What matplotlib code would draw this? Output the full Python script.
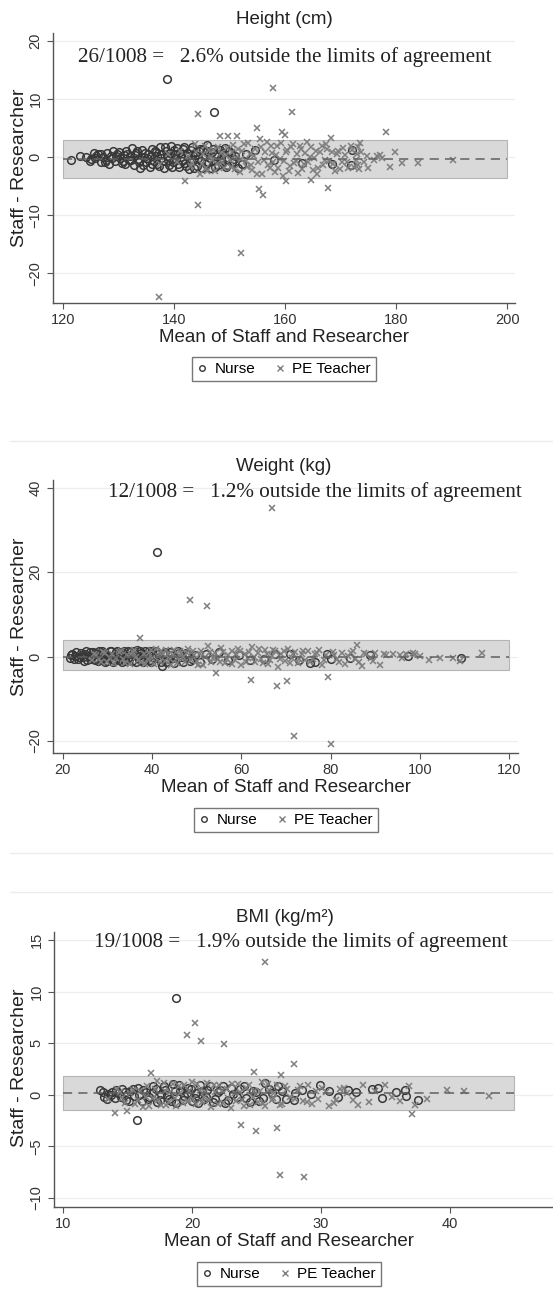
import numpy as np
import matplotlib.pyplot as plt
from matplotlib.lines import Line2D

# Height (cm) : moyenne vs difference
nurse_h_x = [121.5, 123.0, 124.8, 125.5, 125.8, 126.3, 126.8, 127.2, 127.8, 128.2, 128.6, 129.0, 129.3, 129.8,
             130.2, 130.6, 131.0, 131.4, 131.8, 132.1, 132.5, 132.8, 133.2, 133.5, 133.9, 134.2, 134.6, 134.9,
             135.3, 135.6, 136.0, 136.3, 136.7, 137.0, 137.4, 137.7, 138.1, 138.4, 138.7, 138.8, 139.1, 139.5,
             139.8, 140.2, 140.5, 140.9, 141.2, 141.6, 141.9, 142.3, 142.7, 143.0, 143.4, 143.8, 144.1, 144.5,
             144.9, 145.3, 145.7, 146.0, 146.4, 146.8, 147.2, 147.3, 147.7, 148.2, 148.6, 149.1, 149.6, 150.2,
             150.8, 151.5, 154.5, 158.0, 163.0, 168.5, 172.0, 171.8,
             124.2, 125.1, 126.0, 126.9, 127.5, 128.0, 128.9, 129.5, 130.0, 130.8, 131.2, 131.6, 132.3, 132.9,
             133.4, 133.7, 134.4, 134.8, 135.1, 135.8, 136.1, 136.5, 136.9, 137.2, 137.6, 138.0, 138.6, 139.0,
             139.3, 139.7, 140.0, 140.4, 140.7, 141.1, 141.5, 141.8, 142.1, 142.5, 142.9, 143.2, 143.6, 144.0,
             144.3, 144.7, 145.1, 145.5, 145.9, 146.2, 146.6, 147.0, 147.5, 147.9, 148.4, 148.9, 149.3, 149.9,
             150.5, 151.0, 152.2, 153.0]
nurse_h_y = [-0.5, 0.2, -0.6, 0.8, -0.2, 0.5, -0.9, 0.1, -0.4, -1.2, 0.3, 1.1, -0.7, 0.6,
             -0.2, -1.0, 0.4, 1.0, -0.5, 0.2, 1.6, -1.3, 0.7, -0.3, -1.8, 1.2, 0.0, -0.9,
             0.5, -1.6, 1.4, -0.6, 0.9, -1.1, 1.8, -0.2, -1.9, 1.7, 13.5, 0.3, -1.4, 1.9,
             -0.8, 0.6, 1.6, -1.7, 0.1, 1.5, -1.0, 0.8, -2.0, 1.3, -0.4, 0.4, -1.5, 1.0,
             -0.7, 1.4, -1.2, 2.1, -0.1, 0.9, 7.8, -1.6, 0.5, 1.2, -0.9, 1.6, -1.3, 0.7,
             -0.3, -1.8, 1.2, -0.5, -1.0, -1.2, 1.2, -1.3,
             0.1, -0.3, 0.2, 0.6, -0.8, 0.7, -0.1, 0.2, 0.9, -0.6, -1.2, 0.6, -0.4, 0.4,
             1.1, -0.8, -1.3, 0.8, -0.2, 0.2, -1.2, 1.1, 0.3, -1.5, 0.6, -0.7, 1.0, -0.4,
             0.8, -1.7, 1.2, -0.3, -1.2, 0.9, -0.6, 1.8, -1.5, 0.3, -0.9, 1.7, -1.9, 0.9,
             -0.2, 1.5, -1.8, 0.2, 1.1, -0.8, -1.9, 1.4, 0.3, -1.4, -0.2, 0.8, -1.7, 1.0,
             -0.8, 0.3, -1.2, 0.5]
pe_h_x = [137.3, 137.5, 139.0, 140.5, 141.0, 142.0, 142.5, 143.0, 143.8, 144.3, 144.3, 144.6, 145.2, 145.8,
          146.3, 146.9, 147.4, 148.0, 148.3, 148.7, 149.3, 149.8, 150.2, 150.7, 151.2, 151.3, 151.8, 152.0,
          152.3, 152.9, 153.4, 153.9, 154.4, 154.9, 155.0, 155.3, 155.5, 155.6, 156.0, 156.2, 156.7, 157.2,
          157.6, 157.8, 158.1, 158.6, 159.1, 159.5, 159.6, 160.0, 160.1, 160.4, 160.9, 161.2, 161.4, 161.9,
          162.4, 162.9, 163.4, 163.9, 164.4, 164.7, 165.0, 165.5, 166.0, 166.6, 167.1, 167.6, 167.8, 168.3,
          168.7, 169.3, 169.9, 170.5, 171.1, 171.8, 172.4, 173.0, 173.4, 173.3, 173.2, 175.0, 176.5, 177.5,
          178.2, 178.8, 179.8, 181.0, 184.0, 190.3,
          143.3, 144.0, 145.0, 145.5, 146.0, 146.6, 147.1, 147.7, 148.4, 149.0, 149.6, 150.0, 150.5, 151.0,
          151.5, 152.1, 152.6, 153.1, 153.6, 154.1, 154.6, 155.1, 155.8, 156.4, 156.9, 157.4, 157.9, 158.3,
          158.8, 159.3, 159.8, 160.2, 160.7, 161.1, 161.6, 162.1, 162.6, 163.1, 163.6, 164.1, 164.6, 165.2,
          165.7, 166.3, 166.8, 167.3, 167.9, 168.5, 169.0, 169.6, 170.2, 170.8, 171.4, 172.0, 172.7, 173.1,
          173.6, 174.2, 174.8, 176.0, 177.0]
pe_h_y = [-24.0, -1.2, 0.5, -0.8, 1.0, -4.1, 0.2, -1.5, 2.2, 7.4, -8.2, -2.8, 0.6, -1.9,
          1.3, -0.4, -2.3, 1.8, 3.6, -0.9, 0.4, 3.6, -1.6, 2.1, -0.2, 3.6, -2.5, -16.5,
          1.1, -0.7, 2.4, -1.3, 0.3, -2.9, 5.0, -5.5, 3.2, 1.7, -6.5, -0.5, 2.6, -1.9,
          0.8, 11.9, -2.6, 1.9, -0.3, 4.3, -3.3, 3.9, -4.1, 1.2, -1.5, 7.8, 2.3, -0.6,
          -2.7, 1.5, -1.1, 2.7, 0.1, -4.0, -2.2, 1.0, -1.8, 2.0, -0.4, 1.4, -5.3, 3.4,
          -1.2, 0.6, -2.0, 1.6, -0.8, 2.0, -1.6, 0.5, 2.5, -2.0, 1.8, -1.8, 0.2, -0.1,
          4.3, -1.6, 0.9, -1.0, -1.0, -0.5,
          -1.0, 0.9, -1.1, 1.9, -2.4, 0.1, 1.2, -1.2, 0.7, -1.8, 1.6, -0.5, 0.9, -2.1,
          1.5, -0.3, 2.2, -1.6, 0.6, -2.2, 1.4, -0.9, -2.8, 0.9, -1.4, 2.0, -0.9, 0.4,
          -1.8, 2.4, -0.6, 0.9, -2.3, 1.7, -1.0, 0.5, 2.0, -2.0, 0.7, -0.9, 1.8, -0.2,
          -2.8, 0.9, -1.3, 2.3, -0.6, 0.9, -2.3, 1.1, -0.9, 0.4, -1.9, 1.2, -0.5, -1.4,
          0.9, -0.8, 0.3, -0.5, 0.4]

# Weight (kg)
nurse_w_x = [21.5, 22.0, 22.8, 23.4, 24.0, 24.5, 25.0, 25.5, 26.0, 26.4, 26.9, 27.3, 27.8, 28.2,
             28.7, 29.1, 29.6, 30.0, 30.5, 31.0, 31.4, 31.9, 32.3, 32.8, 33.3, 33.7, 34.2, 34.7,
             35.1, 35.6, 36.1, 36.6, 37.0, 37.5, 38.0, 38.5, 39.0, 39.5, 40.0, 40.5, 41.1, 41.3,
             41.9, 42.3, 42.8, 43.5, 44.2, 45.0, 45.8, 46.6, 47.5, 48.5, 49.6, 50.8, 52.0, 53.5,
             55.0, 57.0, 59.5, 62.0, 65.0, 67.5, 70.9, 73.0, 75.4, 76.5, 79.1, 80.0, 84.4, 88.8,
             97.4, 109.2,
             21.8, 22.4, 23.0, 23.7, 24.3, 24.8, 25.3, 25.8, 26.2, 26.7, 27.1, 27.6, 28.0, 28.5,
             28.9, 29.4, 29.8, 30.3, 30.8, 31.2, 31.7, 32.1, 32.6, 33.0, 33.5, 34.0, 34.5, 34.9,
             35.4, 35.9, 36.3, 36.8, 37.3, 37.8, 38.3, 38.8, 39.3, 39.8, 40.3, 40.8, 41.6, 42.5,
             43.2, 44.0, 44.8, 46.0, 47.0, 48.0, 49.0]
nurse_w_y = [-0.4, 0.6, 0.2, -0.7, 0.9, -0.2, 0.5, -0.9, 1.1, 0.0, -0.6, 0.8, -1.1, 0.3,
             1.2, -0.4, 0.7, -1.0, 1.3, 0.1, -0.8, 1.0, -0.3, 0.6, -1.3, 1.4, 0.2, -0.6,
             1.1, -1.0, 0.4, 1.5, -0.5, 0.9, -1.4, 1.2, 0.0, -0.9, 1.4, -0.3, 24.7, 0.7,
             -1.2, -2.3, 1.0, -0.6, 0.4, -1.5, 1.2, -0.2, 0.8, -1.0, 0.3, -1.4, 0.6, -0.5,
             1.0, -0.8, 0.4, -0.9, -0.5, 0.6, 0.5, -0.8, -1.5, -1.3, 0.6, -0.5, -0.3, 0.3,
             0.2, -0.4,
             0.3, -0.6, 1.0, -0.1, 0.4, -1.0, 1.2, 0.2, -0.6, 1.0, -0.9, 0.5, 1.3, -0.5,
             0.9, -1.2, 0.2, -0.3, 1.4, -1.2, 0.5, 1.3, -0.9, 0.2, 0.9, -1.0, 1.2, -0.2,
             0.6, 1.3, -1.3, 0.2, 1.4, -0.8, 0.5, -0.3, 1.3, -1.2, 0.4, 1.2, -0.7, 0.5,
             -1.3, 1.1, -0.4, 0.9, -1.2, 0.5, -0.5]
pe_w_x = [26.5, 27.5, 28.5, 29.5, 30.5, 31.5, 32.5, 33.5, 34.3, 35.0, 35.8, 36.5, 37.3, 37.5,
          38.2, 39.0, 39.8, 40.5, 41.3, 42.0, 42.8, 43.5, 44.3, 45.0, 45.8, 46.5, 47.3, 48.0,
          48.6, 48.8, 49.5, 50.3, 51.0, 51.8, 52.2, 52.5, 53.3, 54.0, 54.3, 54.8, 55.5, 56.3,
          57.0, 57.8, 58.5, 59.3, 60.0, 60.8, 61.5, 62.1, 62.3, 63.0, 63.8, 64.5, 65.3, 66.0,
          66.9, 66.8, 67.5, 68.0, 68.3, 69.0, 69.8, 70.2, 70.5, 71.3, 71.8, 72.0, 72.8, 73.5,
          74.3, 75.0, 76.0, 77.0, 78.0, 79.0, 79.4, 80.1, 80.5, 81.5, 82.5, 83.2, 84.0, 85.0,
          86.0, 86.3, 87.0, 88.0, 89.0, 90.0, 91.0, 92.5, 94.0, 95.5, 97.0, 98.5, 100.0, 102.0,
          104.5, 107.5, 109.0, 114.0,
          27.0, 28.0, 29.0, 30.0, 31.0, 32.0, 33.0, 34.0, 35.3, 36.0, 36.8, 38.5, 39.3, 40.0,
          40.8, 41.8, 42.5, 43.2, 44.0, 44.8, 45.5, 46.2, 47.0, 47.8, 49.2, 50.0, 50.8, 51.5,
          53.0, 53.7, 55.2, 56.0, 56.7, 58.0, 58.8, 59.8, 61.0, 61.8, 62.8, 64.0, 64.8, 65.8,
          66.5, 67.2, 68.6, 69.5, 70.8, 71.6, 73.0, 73.8, 75.5, 76.5, 77.5, 78.5, 80.8, 82.0,
          84.5, 85.5, 87.5, 89.5, 92.0, 96.0, 99.0]
pe_w_y = [-0.9, 0.4, -1.3, 0.8, -0.4, -1.6, 1.0, -0.7, 0.3, -1.8, 1.1, -0.2, 4.5, -1.2,
          0.7, -0.6, 1.5, -1.7, 0.2, 1.2, -1.0, 0.5, -2.0, 1.6, -0.3, 0.9, -1.4, 1.9,
          13.5, -0.8, 0.4, -1.9, 1.3, -0.1, 12.1, 2.5, -1.2, 0.8, -3.8, -0.5, 2.0, -1.6,
          0.3, 1.4, -0.9, 1.8, -2.1, 0.6, -0.4, -5.5, 2.3, -1.3, 0.9, -0.7, 1.6, -1.8,
          35.2, 0.2, 1.2, -7.1, -2.6, 0.7, -1.1, -5.7, 1.7, -0.3, -18.8, 1.0, -1.5, 0.5,
          -0.8, 1.3, -0.6, 0.9, -1.9, 0.4, -4.8, -20.7, 1.1, -0.7, 0.8, -1.8, 0.2, 1.3,
          2.8, -1.2, -2.2, 0.5, -0.4, 0.9, -1.9, 0.3, 0.7, 0.4, 0.6, 0.9, 0.1, -0.8,
          -0.4, -0.3, -1.0, 0.8,
          0.6, -0.5, 1.1, -1.2, 0.5, -0.3, 1.3, -1.5, 0.7, 1.6, -0.9, -1.8, 0.9, -0.4,
          1.8, -1.3, 0.6, 1.5, -0.6, 0.3, -1.5, 1.2, -0.2, 0.8, 1.4, -1.0, 0.5, -2.0,
          1.1, -0.4, -1.3, 1.0, -0.7, -1.8, 0.6, 1.2, -1.2, 1.0, -0.2, 1.9, -1.6, 0.5,
          -0.9, 1.6, -0.5, 1.4, -1.6, 0.7, -0.6, 1.2, -1.2, 0.5, 1.6, -0.9, 0.3, -1.2,
          0.9, -0.6, 0.8, -1.0, 0.6, -0.3, 0.7]

# BMI (kg/m²)
nurse_b_x = [12.9, 13.2, 13.5, 13.8, 14.0, 14.3, 14.6, 14.9, 15.2, 15.5, 15.7, 15.8, 16.1, 16.4,
             16.7, 17.0, 17.3, 17.6, 17.9, 18.2, 18.5, 18.8, 18.8, 19.1, 19.4, 19.7, 20.0, 20.3,
             20.6, 20.9, 21.2, 21.6, 22.0, 22.4, 22.8, 23.2, 23.7, 24.2, 24.7, 25.2, 25.7, 26.2,
             26.7, 27.3, 27.9, 28.5, 29.2, 29.9, 30.6, 31.3, 32.1, 32.7, 34.0, 34.4, 34.7, 35.8,
             36.5, 36.6, 37.5,
             13.1, 13.4, 13.7, 14.1, 14.5, 14.8, 15.1, 15.4, 15.9, 16.2, 16.6, 16.9, 17.2, 17.5,
             17.8, 18.1, 18.4, 18.7, 19.0, 19.3, 19.6, 19.9, 20.2, 20.5, 20.8, 21.1, 21.4, 21.8,
             22.2, 22.6, 23.0, 23.5, 24.0, 24.5, 25.0, 25.5, 26.0, 26.5, 27.0, 28.0]
nurse_b_y = [0.5, -0.2, 0.1, 0.3, -0.3, 0.2, 0.6, -0.5, 0.4, -0.1, -2.5, 0.7, -0.6, 0.3,
             -0.2, 0.8, -0.7, 0.1, 0.5, -0.4, 1.0, 9.4, -0.8, 0.4, -0.1, 0.7, -0.6, 0.2,
             0.9, -0.4, 0.5, -0.7, 0.3, 0.8, -0.5, 0.1, 0.6, -0.3, 0.4, -0.6, 1.1, 0.2,
             0.8, -0.4, -0.5, 0.5, 0.1, 0.9, 0.4, -0.2, 0.5, 0.3, 0.6, 0.7, -0.3, 0.3,
             0.5, -0.1, -0.5,
             0.3, -0.4, 0.0, 0.5, -0.2, 0.3, -0.6, 0.6, 0.0, 0.5, -0.4, 0.2, 0.6, -0.5,
             0.8, 0.0, -0.6, 0.4, 0.9, -0.5, 0.2, 0.6, -0.3, -0.8, 0.4, -0.2, 0.8, -0.4,
             0.5, -0.8, 0.7, -0.2, 0.8, -0.7, 0.3, -0.3, 0.6, -0.4, 0.4, 0.2]
pe_b_x = [13.5, 14.0, 14.4, 14.8, 15.0, 15.4, 15.8, 16.2, 16.5, 16.8, 17.0, 17.3, 17.6, 17.9,
          18.2, 18.5, 18.8, 19.1, 19.4, 19.6, 19.7, 20.0, 20.2, 20.3, 20.6, 20.7, 20.9, 21.2,
          21.5, 21.8, 22.1, 22.4, 22.5, 22.7, 23.0, 23.3, 23.6, 23.8, 23.9, 24.2, 24.5, 24.8,
          24.8, 25.0, 25.1, 25.4, 25.7, 25.7, 26.0, 26.3, 26.6, 26.6, 26.8, 26.9, 27.0, 27.4,
          27.9, 28.0, 28.4, 28.7, 28.9, 29.3, 29.6, 30.1, 30.6, 31.0, 31.5, 32.0, 32.5, 32.9,
          33.3, 33.7, 34.2, 35.0, 35.5, 36.1, 36.8, 37.1, 37.3, 38.2, 39.8, 41.1, 43.0,
          14.2, 14.6, 15.2, 15.6, 16.0, 16.4, 16.7, 17.1, 17.4, 17.8, 18.0, 18.3, 18.7, 19.0,
          19.3, 19.8, 20.1, 20.4, 20.8, 21.0, 21.3, 21.7, 22.0, 22.3, 22.8, 23.1, 23.4, 23.7,
          24.0, 24.4, 24.7, 25.3, 25.5, 25.9, 26.2, 26.4, 26.8, 27.2, 27.6, 28.2, 28.6, 29.0,
          29.8, 30.4, 31.2, 31.8]
pe_b_y = [-0.4, -1.8, 0.3, -0.8, -1.6, 0.5, -0.5, -1.2, 0.8, 2.1, -0.3, 1.3, -1.0, 0.4,
          -0.7, 1.0, -1.1, 0.2, 0.9, 5.8, -0.6, 1.2, 7.0, -0.9, 0.5, 5.2, -0.2, 1.1,
          -1.2, 0.3, 0.9, -0.8, 4.9, 0.6, -1.3, 0.2, 1.0, -2.9, -0.5, 0.7, -1.0, 2.2,
          0.4, -3.5, -0.7, 1.2, 12.9, -1.1, 0.5, -0.3, -3.2, 0.9, -7.8, 1.9, -0.9, 0.6,
          3.0, -0.4, 0.8, -8.0, -0.7, -0.9, 0.4, 0.7, -1.1, -0.8, 0.6, 0.2, -0.5, -1.0,
          0.9, -0.7, 0.4, 0.9, -0.2, -0.6, 0.8, -1.9, -1.0, -0.4, 0.5, 0.4, -0.1,
          0.6, -0.3, 0.2, -0.9, 0.4, -0.2, -1.1, 0.6, -0.5, 1.1, -1.0, 0.3, -0.3, 0.8,
          -0.8, 0.4, -0.4, 1.0, -0.7, 0.3, -0.5, 0.9, -0.9, 0.4, -0.3, 1.0, -0.6, 0.3,
          -1.1, 0.9, -0.2, 0.4, -0.8, 1.0, -0.5, 0.2, -1.0, 0.8, -0.2, 0.5, -0.6, 0.9,
          -0.4, 0.3, -0.5, 0.7]

titles = ["Height (cm)", "Weight (kg)", "BMI (kg/m²)"]
notes = ["26/1008 =   2.6% outside the limits of agreement",
         "12/1008 =   1.2% outside the limits of agreement",
         "19/1008 =   1.9% outside the limits of agreement"]
loa_low = [-3.5, -3.3, -1.45]
loa_high = [2.9, 4.0, 1.8]
mean_diff = [-0.3, 0.0, 0.15]
x_ticks = [[120, 140, 160, 180, 200], [20, 40, 60, 80, 100, 120], [10, 20, 30, 40]]
y_ticks = [[-20, -10, 0, 10, 20], [-20, 0, 20, 40], [-10, -5, 0, 5, 10, 15]]

nurses = [(nurse_h_x, nurse_h_y), (nurse_w_x, nurse_w_y), (nurse_b_x, nurse_b_y)]
teachers = [(pe_h_x, pe_h_y), (pe_w_x, pe_w_y), (pe_b_x, pe_b_y)]

W, H = 553, 1290  # taille en pixels


def fx(px):
    return px / W


def fy(py):
    return 1 - py / H


# Mise en page de chaque panneau (pixels)
panels = [
    dict(l=53, r=515, t=33, b=303, xlim=(118.2, 201.4), ylim=(-25.1, 21.4), band_end=200,
         title_y=20, note_x=285, note_y=57, xlab_y=337, leg_x=284, leg_y=369, ylab_y=168),
    dict(l=53, r=518, t=480, b=753, xlim=(17.8, 122.0), ylim=(-22.9, 41.9), band_end=120,
         title_y=467, note_x=315, note_y=492, xlab_y=788, leg_x=286, leg_y=820, ylab_y=617),
    dict(l=54, r=553, t=932, b=1207, xlim=(9.3, 48.0), ylim=(-10.9, 15.8), band_end=45,
         title_y=918, note_x=301, note_y=942, xlab_y=1242, leg_x=289, leg_y=1274, ylab_y=1068),
]

sans = "Liberation Sans"
serif = "Liberation Serif"
nurse_col = "#383838"
pe_col = "#7e7e7e"

fig = plt.figure(figsize=(W / 100, H / 100), dpi=100)

# Lignes de séparation grises entre les panneaux
for yline in [441, 853, 892]:
    fig.add_artist(Line2D([fx(10), 1], [fy(yline), fy(yline)], color="#ececec", lw=1))

for i, p in enumerate(panels):
    ax = fig.add_axes([fx(p["l"]), fy(p["b"]), fx(p["r"] - p["l"]), (p["b"] - p["t"]) / H])
    ax.set_xlim(p["xlim"])
    ax.set_ylim(p["ylim"])
    ax.set_xticks(x_ticks[i])
    ax.set_yticks(y_ticks[i])
    for yt in y_ticks[i]:
        ax.axhline(yt, color="#eeeeee", lw=0.9, zorder=0)

    x0, x1 = x_ticks[i][0], p["band_end"]
    ax.fill_between([x0, x1], loa_low[i], loa_high[i], facecolor="#d9d9d9", edgecolor="#b5b5b5",
                    lw=0.8, zorder=1)
    ax.plot([x0, x1], [mean_diff[i], mean_diff[i]], color="#606060", lw=1.1, ls=(0, (6, 4)), zorder=4)

    nx, ny = nurses[i]
    tx, ty = teachers[i]
    ax.plot(nx, ny, "o", mfc="none", mec=nurse_col, ms=5.5, mew=1.1, zorder=2)
    ax.plot(tx, ty, "x", color=pe_col, ms=5, mew=1.1, zorder=3)

    for s in ["top", "right"]:
        ax.spines[s].set_visible(False)
    for s in ["left", "bottom"]:
        ax.spines[s].set_color("#555555")
        ax.spines[s].set_linewidth(1)
    ax.tick_params(direction="out", length=4, width=0.8, color="#555555", labelcolor="#333333",
                   labelsize=10.5)
    for lab in ax.get_xticklabels() + ax.get_yticklabels():
        lab.set_family(sans)
    for lab in ax.get_yticklabels():
        lab.set_rotation(90)
        lab.set_va("center")

    fig.text(fx((p["l"] + min(p["r"], 515)) / 2), fy(p["title_y"]), titles[i],
             ha="center", va="center", family=sans, fontsize=13.5, color="#222222")
    fig.text(fx(p["note_x"]), fy(p["note_y"]), notes[i], ha="center", va="center",
             family=serif, fontsize=15.2, color="#222222")
    fig.text(fx(p["leg_x"]), fy(p["xlab_y"]), "Mean of Staff and Researcher", ha="center", va="center",
             family=sans, fontsize=13.5, color="#222222")
    fig.text(fx(20), fy(p["ylab_y"]), "Staff - Researcher", ha="center", va="center", rotation=90,
             family=sans, fontsize=14, color="#222222")

    handles = [Line2D([], [], ls="", marker="o", mfc="none", mec=nurse_col, ms=4, mew=1),
               Line2D([], [], ls="", marker="x", color=pe_col, ms=4, mew=1)]
    leg = fig.legend(handles, ["Nurse", "PE Teacher"], loc="center",
                     bbox_to_anchor=(fx(p["leg_x"]), fy(p["leg_y"])), ncol=2, frameon=True,
                     prop={"family": sans, "size": 11}, handlelength=0.6, handletextpad=0.5,
                     columnspacing=1.3, borderpad=0.35, fancybox=False)
    leg.get_frame().set_edgecolor("#555555")
    leg.get_frame().set_linewidth(1)

fig.savefig("out.png", dpi=100, facecolor="white")
